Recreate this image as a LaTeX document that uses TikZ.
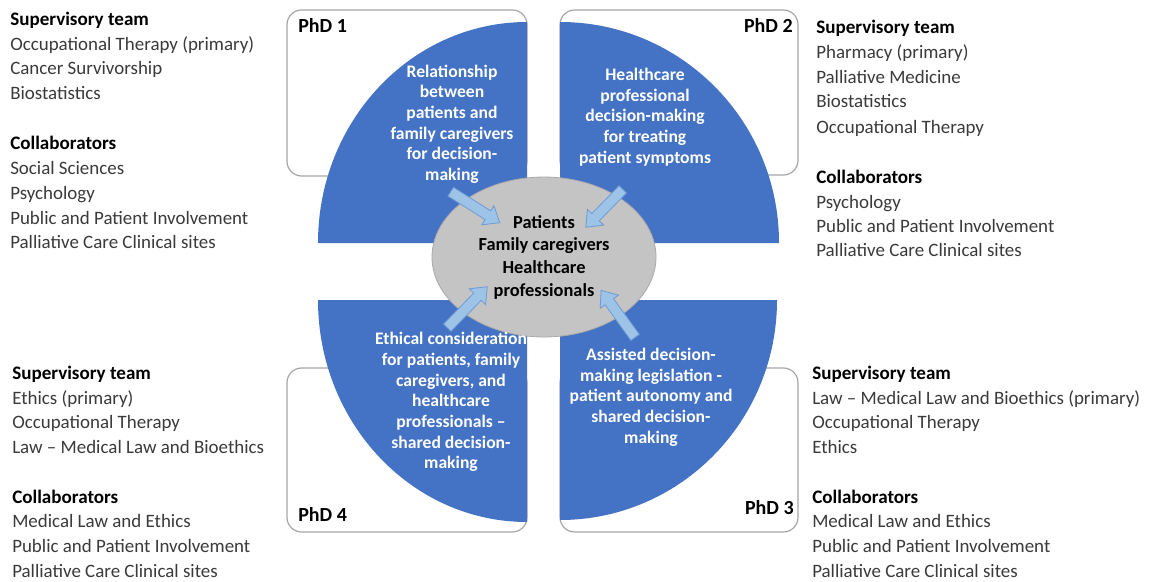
\documentclass[tikz,border=0pt]{standalone}
\usepackage{fontspec}
\setmainfont{Carlito}
\usetikzlibrary{shapes.geometric,shapes.arrows,calc}
\definecolor{qblue}{HTML}{4472C4}
\definecolor{boxedge}{HTML}{A6A6A6}
\definecolor{hubfill}{HTML}{C4C4C4}
\definecolor{hubedge}{HTML}{A9A9A9}
\definecolor{arrfill}{HTML}{9DC3E6}
\definecolor{arredge}{HTML}{6E9BD3}
\definecolor{sidetext}{HTML}{3A3A3A}
\tikzset{
  phdbox/.style={draw=boxedge, line width=0.9pt, rounded corners=11pt},
  quad/.style={fill=qblue},
  qtext/.style={text=white, align=center, inner sep=0pt, font=\bfseries\fontsize{13.2}{15.5}\selectfont},
  phdlabel/.style={inner sep=0pt, font=\bfseries\fontsize{15}{17}\selectfont},
  head/.style={inner sep=0pt, anchor=base west, font=\bfseries\fontsize{14.3}{16}\selectfont, text=black},
  item/.style={inner sep=0pt, anchor=base west, font=\fontsize{14.2}{16}\selectfont, text=sidetext},
  blockarrow/.style={single arrow, draw=arredge, fill=arrfill, line width=0.6pt,
    inner sep=0pt, inner ysep=3.6pt, single arrow head extend=4.6pt,
    single arrow tip angle=78, sloped, allow upside down}
}
\begin{document}
\begin{tikzpicture}[x=0.75pt,y=-0.75pt]
\useasboundingbox (0,0) rectangle (1151,581);
\fill[white] (0,0) rectangle (1151,581);

% frames
\draw[phdbox] (287,10) rectangle (527,176);
\draw[phdbox] (560,10) rectangle (798,175);
\draw[phdbox] (287,368) rectangle (527,532);
\draw[phdbox] (560,368) rectangle (798,532);

% quadrants
\fill[quad] (527,243) -- (318,243) arc[start angle=180,end angle=90,x radius=156.75pt,y radius=165.75pt] -- cycle;
\fill[quad] (560,243) -- (779,243) arc[start angle=0,end angle=90,x radius=164.25pt,y radius=165.75pt] -- cycle;
\fill[quad] (527,300) -- (318,300) arc[start angle=180,end angle=270,x radius=156.75pt,y radius=166.5pt] -- cycle;
\fill[quad] (560,300) -- (777,300) arc[start angle=0,end angle=-90,x radius=162.75pt,y radius=165pt] -- cycle;

% hub
\node[ellipse, fill=hubfill, draw=hubedge, line width=0.6pt, minimum width=168pt, minimum height=120pt,
  inner sep=0pt, align=center, font=\bfseries\fontsize{13.8}{17}\selectfont] (hub) at (544,257)
  {Patients\\Family caregivers\\Healthcare\\professionals};

% quadrant texts
\node[qtext] (q1) at (452,124) {Relationship\\between\\patients and\\family caregivers\\for decision-\\making};
\node[qtext] (q2) at (645,117) {Healthcare\\professional\\decision-making\\for treating\\patient symptoms};
\node[qtext] (q4) at (451,402) {Ethical consideration\\for patients, family\\caregivers, and\\healthcare\\professionals --\\shared decision-\\making};
\node[qtext] (q3) at (651,397) {Assisted decision-\\making legislation -\\patient autonomy and\\shared decision-\\making};

% arrows
\coordinate (a1s) at (448,190); \coordinate (a1t) at (497,221);
\coordinate (a2s) at (625,187); \coordinate (a2t) at (588,225);
\coordinate (a3s) at (445,330); \coordinate (a3t) at (485,289);
\coordinate (a4s) at (637,340); \coordinate (a4t) at (603,293);
\foreach \s/\t in {a1s/a1t,a2s/a2t,a3s/a3t,a4s/a4t}{
  \path let \p1=($(\t)-(\s)$), \n1={veclen(\x1,\y1)} in
    (\s) -- (\t) node[midway, blockarrow, minimum height=\n1, minimum width=17pt] {};
}

% PhD labels
\node[phdlabel, anchor=base west] (p1) at (298,33) {PhD 1};
\node[phdlabel, anchor=base east] (p2) at (793,33) {PhD 2};
\node[phdlabel, anchor=base west] (p4) at (298,521) {PhD 4};
\node[phdlabel, anchor=base east] (p3) at (794,514) {PhD 3};

% left top
\node[head] (lt0) at (10,26) {Supervisory team};
\node[item] (lt1) at (10,51) {Occupational Therapy (primary)};
\node[item] (lt2) at (10,75) {Cancer Survivorship};
\node[item] (lt3) at (10,100) {Biostatistics};
\node[head] (lt4) at (10,149) {Collaborators};
\node[item] (lt5) at (10,174) {Social Sciences};
\node[item] (lt6) at (10,199) {Psychology};
\node[item] (lt7) at (10,224) {Public and Patient Involvement};
\node[item] (lt8) at (10,248) {Palliative Care Clinical sites};

% right top
\node[head] (rt0) at (816,34) {Supervisory team};
\node[item] (rt1) at (816,59) {Pharmacy (primary)};
\node[item] (rt2) at (816,84) {Palliative Medicine};
\node[item] (rt3) at (816,108) {Biostatistics};
\node[item] (rt4) at (816,133) {Occupational Therapy};
\node[head] (rt5) at (816,183) {Collaborators};
\node[item] (rt6) at (816,208) {Psychology};
\node[item] (rt7) at (816,232) {Public and Patient Involvement};
\node[item] (rt8) at (816,256) {Palliative Care Clinical sites};

% left bottom
\node[head] (lb0) at (12,379) {Supervisory team};
\node[item] (lb1) at (12,404) {Ethics (primary)};
\node[item] (lb2) at (12,428) {Occupational Therapy};
\node[item] (lb3) at (12,453) {Law -- Medical Law and Bioethics};
\node[head] (lb4) at (12,503) {Collaborators};
\node[item] (lb5) at (12,527) {Medical Law and Ethics};
\node[item] (lb6) at (12,552) {Public and Patient Involvement};
\node[item] (lb7) at (12,577) {Palliative Care Clinical sites};

% right bottom
\node[head] (rb0) at (812,379) {Supervisory team};
\node[item] (rb1) at (812,404) {Law -- Medical Law and Bioethics (primary)};
\node[item] (rb2) at (812,428) {Occupational Therapy};
\node[item] (rb3) at (812,453) {Ethics};
\node[head] (rb4) at (812,503) {Collaborators};
\node[item] (rb5) at (812,527) {Medical Law and Ethics};
\node[item] (rb6) at (812,552) {Public and Patient Involvement};
\node[item] (rb7) at (812,577) {Palliative Care Clinical sites};
\end{tikzpicture}
\end{document}
